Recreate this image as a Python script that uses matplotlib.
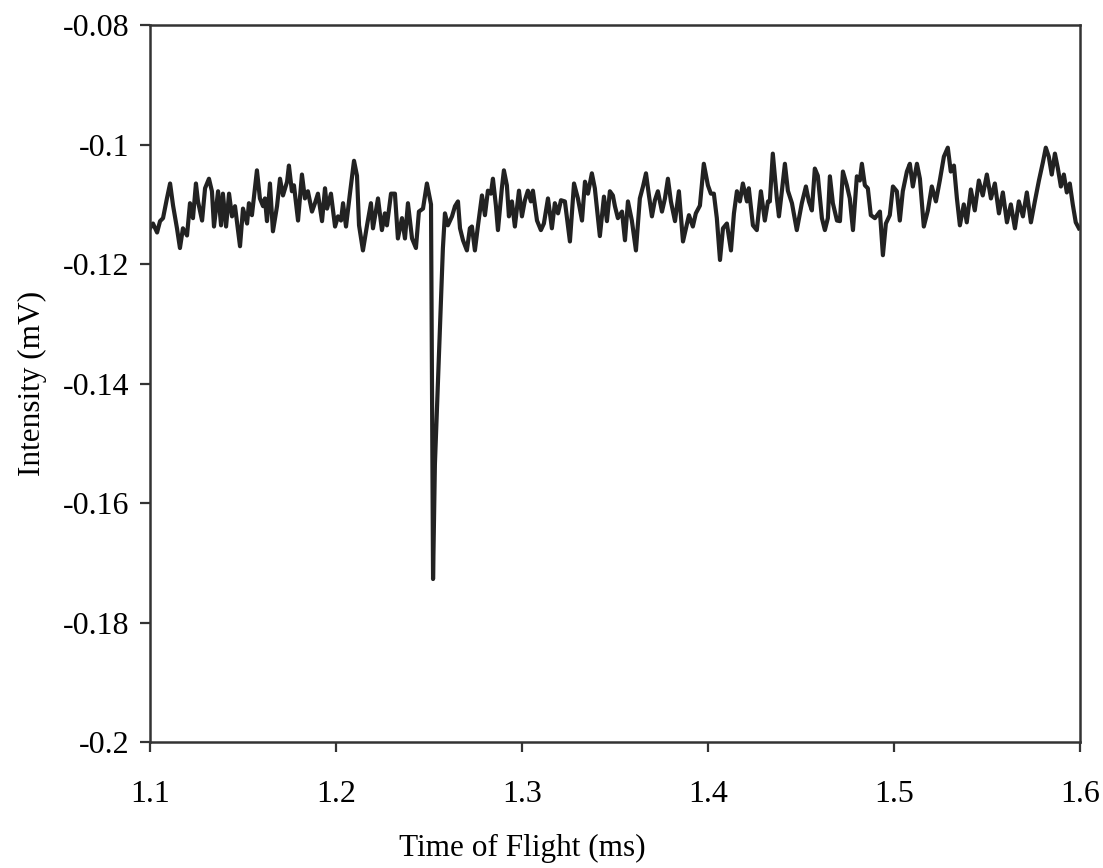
"""Time-of-flight trace with a single sharp negative peak near 1.25 ms."""

import matplotlib
matplotlib.use("Agg")
import matplotlib.pyplot as plt

plt.rcParams['font.family'] = ['Liberation Serif', 'DejaVu Serif']

# Time of flight (ms)
time_ms = [
    1.1000, 1.1016, 1.1038, 1.1054, 1.1070, 1.1091, 1.1108, 1.1124, 1.1145, 1.1161,
    1.1177, 1.1199, 1.1215, 1.1231, 1.1247, 1.1258, 1.1280, 1.1296, 1.1317, 1.1333,
    1.1344, 1.1366, 1.1382, 1.1392, 1.1409, 1.1425, 1.1441, 1.1457, 1.1484, 1.1500,
    1.1522, 1.1532, 1.1548, 1.1575, 1.1591, 1.1608, 1.1618, 1.1629, 1.1645, 1.1661,
    1.1683, 1.1699, 1.1715, 1.1737, 1.1747, 1.1763, 1.1774, 1.1796, 1.1817, 1.1833,
    1.1849, 1.1871, 1.1887, 1.1903, 1.1925, 1.1941, 1.1952, 1.1973, 1.1995, 1.2011,
    1.2027, 1.2038, 1.2054, 1.2075, 1.2097, 1.2113, 1.2124, 1.2145, 1.2167, 1.2188,
    1.2199, 1.2226, 1.2247, 1.2263, 1.2274, 1.2296, 1.2317, 1.2333, 1.2355, 1.2371,
    1.2387, 1.2409, 1.2430, 1.2446, 1.2468, 1.2489, 1.2505, 1.2511, 1.2522, 1.2532,
    1.2575, 1.2586, 1.2602, 1.2624, 1.2640, 1.2656, 1.2667, 1.2683, 1.2704, 1.2720,
    1.2731, 1.2747, 1.2763, 1.2785, 1.2801, 1.2817, 1.2833, 1.2844, 1.2860, 1.2871,
    1.2892, 1.2903, 1.2919, 1.2930, 1.2946, 1.2962, 1.2984, 1.3000, 1.3016, 1.3032,
    1.3048, 1.3059, 1.3081, 1.3102, 1.3118, 1.3140, 1.3161, 1.3177, 1.3194, 1.3210,
    1.3231, 1.3258, 1.3280, 1.3301, 1.3323, 1.3339, 1.3355, 1.3376, 1.3392, 1.3419,
    1.3441, 1.3457, 1.3473, 1.3489, 1.3500, 1.3516, 1.3538, 1.3554, 1.3570, 1.3591,
    1.3613, 1.3634, 1.3651, 1.3667, 1.3683, 1.3699, 1.3715, 1.3731, 1.3753, 1.3769,
    1.3785, 1.3801, 1.3823, 1.3844, 1.3866, 1.3882, 1.3898, 1.3919, 1.3935, 1.3957,
    1.3978, 1.4000, 1.4016, 1.4032, 1.4048, 1.4065, 1.4081, 1.4102, 1.4124, 1.4140,
    1.4156, 1.4172, 1.4188, 1.4210, 1.4220, 1.4242, 1.4263, 1.4285, 1.4306, 1.4323,
    1.4333, 1.4349, 1.4371, 1.4382, 1.4398, 1.4414, 1.4430, 1.4452, 1.4478, 1.4495,
    1.4505, 1.4527, 1.4543, 1.4559, 1.4575, 1.4591, 1.4613, 1.4629, 1.4645, 1.4656,
    1.4672, 1.4694, 1.4710, 1.4726, 1.4747, 1.4763, 1.4780, 1.4801, 1.4817, 1.4828,
    1.4844, 1.4860, 1.4876, 1.4898, 1.4925, 1.4941, 1.4957, 1.4978, 1.4995, 1.5016,
    1.5032, 1.5048, 1.5070, 1.5086, 1.5102, 1.5124, 1.5140, 1.5161, 1.5183, 1.5204,
    1.5226, 1.5247, 1.5269, 1.5290, 1.5306, 1.5323, 1.5339, 1.5355, 1.5376, 1.5392,
    1.5414, 1.5435, 1.5457, 1.5478, 1.5500, 1.5522, 1.5543, 1.5565, 1.5586, 1.5608,
    1.5629, 1.5651, 1.5672, 1.5694, 1.5715, 1.5737, 1.5758, 1.5780, 1.5801, 1.5817,
    1.5833, 1.5849, 1.5866, 1.5882, 1.5898, 1.5914, 1.5930, 1.5946, 1.5962, 1.5978,
    1.5995,
]

# Intensity (mV)
intensity_mv = [
    -0.1140, -0.1132, -0.1147, -0.1128, -0.1123, -0.1090, -0.1065, -0.1102, -0.1140, -0.1173,
    -0.1140, -0.1152, -0.1098, -0.1123, -0.1065, -0.1095, -0.1127, -0.1073, -0.1057, -0.1078,
    -0.1137, -0.1078, -0.1135, -0.1082, -0.1137, -0.1082, -0.1120, -0.1103, -0.1170, -0.1107,
    -0.1132, -0.1098, -0.1118, -0.1043, -0.1090, -0.1103, -0.1090, -0.1128, -0.1065, -0.1145,
    -0.1103, -0.1057, -0.1085, -0.1062, -0.1035, -0.1078, -0.1068, -0.1127, -0.1050, -0.1090,
    -0.1078, -0.1112, -0.1098, -0.1082, -0.1128, -0.1073, -0.1107, -0.1082, -0.1137, -0.1120,
    -0.1127, -0.1098, -0.1137, -0.1082, -0.1027, -0.1052, -0.1135, -0.1177, -0.1135, -0.1098,
    -0.1140, -0.1090, -0.1143, -0.1115, -0.1135, -0.1082, -0.1082, -0.1157, -0.1123, -0.1157,
    -0.1098, -0.1157, -0.1173, -0.1112, -0.1107, -0.1065, -0.1090, -0.1100, -0.1727, -0.1535,
    -0.1173, -0.1115, -0.1135, -0.1120, -0.1103, -0.1095, -0.1140, -0.1160, -0.1177, -0.1140,
    -0.1137, -0.1177, -0.1137, -0.1085, -0.1118, -0.1077, -0.1082, -0.1057, -0.1102, -0.1143,
    -0.1073, -0.1043, -0.1068, -0.1120, -0.1095, -0.1137, -0.1077, -0.1120, -0.1093, -0.1077,
    -0.1095, -0.1077, -0.1127, -0.1143, -0.1132, -0.1090, -0.1140, -0.1098, -0.1115, -0.1093,
    -0.1095, -0.1162, -0.1065, -0.1090, -0.1127, -0.1062, -0.1082, -0.1048, -0.1073, -0.1153,
    -0.1087, -0.1128, -0.1078, -0.1085, -0.1103, -0.1123, -0.1112, -0.1160, -0.1095, -0.1127,
    -0.1177, -0.1090, -0.1070, -0.1048, -0.1085, -0.1120, -0.1093, -0.1078, -0.1112, -0.1090,
    -0.1057, -0.1095, -0.1128, -0.1078, -0.1162, -0.1140, -0.1118, -0.1137, -0.1115, -0.1102,
    -0.1032, -0.1068, -0.1082, -0.1082, -0.1123, -0.1193, -0.1140, -0.1132, -0.1177, -0.1115,
    -0.1078, -0.1095, -0.1065, -0.1095, -0.1073, -0.1135, -0.1143, -0.1078, -0.1127, -0.1095,
    -0.1095, -0.1015, -0.1090, -0.1120, -0.1077, -0.1032, -0.1077, -0.1098, -0.1143, -0.1115,
    -0.1098, -0.1070, -0.1095, -0.1110, -0.1040, -0.1052, -0.1123, -0.1143, -0.1123, -0.1053,
    -0.1098, -0.1127, -0.1128, -0.1045, -0.1068, -0.1090, -0.1143, -0.1053, -0.1060, -0.1032,
    -0.1068, -0.1073, -0.1118, -0.1123, -0.1112, -0.1185, -0.1132, -0.1118, -0.1070, -0.1078,
    -0.1127, -0.1078, -0.1045, -0.1032, -0.1070, -0.1032, -0.1057, -0.1137, -0.1110, -0.1070,
    -0.1095, -0.1060, -0.1020, -0.1005, -0.1045, -0.1035, -0.1090, -0.1135, -0.1100, -0.1130,
    -0.1075, -0.1110, -0.1060, -0.1085, -0.1050, -0.1090, -0.1065, -0.1115, -0.1080, -0.1130,
    -0.1100, -0.1140, -0.1095, -0.1120, -0.1080, -0.1130, -0.1095, -0.1060, -0.1030, -0.1005,
    -0.1020, -0.1050, -0.1015, -0.1040, -0.1070, -0.1050, -0.1080, -0.1065, -0.1100, -0.1130,
    -0.1140,
]

x_ticks = [1.1, 1.2, 1.3, 1.4, 1.5, 1.6]
x_tick_labels = ['1.1', '1.2', '1.3', '1.4', '1.5', '1.6']
y_ticks = [-0.2, -0.18, -0.16, -0.14, -0.12, -0.1, -0.08]
y_tick_labels = ['-0.2', '-0.18', '-0.16', '-0.14', '-0.12', '-0.1', '-0.08']

fig = plt.figure(figsize=(11.03, 8.68), dpi=100)
ax = fig.add_axes([0.136, 0.145, 0.843, 0.826])

ax.plot(time_ms, intensity_mv, color='#222222', linewidth=3.0)

ax.set_xlim(1.1, 1.6)
ax.set_ylim(-0.2, -0.08)
ax.set_xticks(x_ticks)
ax.set_xticklabels(x_tick_labels)
ax.set_yticks(y_ticks)
ax.set_yticklabels(y_tick_labels)

for spine in ax.spines.values():
    spine.set_linewidth(1.8)
    spine.set_color('#333333')

ax.tick_params(axis='both', direction='out', length=7, width=1.6,
               colors='#333333', labelsize=23, labelcolor='black')
ax.tick_params(axis='x', pad=20)
ax.tick_params(axis='y', pad=8)
ax.tick_params(top=False, right=False)

ax.set_xlabel('Time of Flight (ms)', fontsize=22.5)
ax.xaxis.set_label_coords(0.40, -0.128)
ax.set_ylabel('Intensity (mV)', fontsize=22.5, labelpad=11)

fig.savefig('out.png', dpi=100)
